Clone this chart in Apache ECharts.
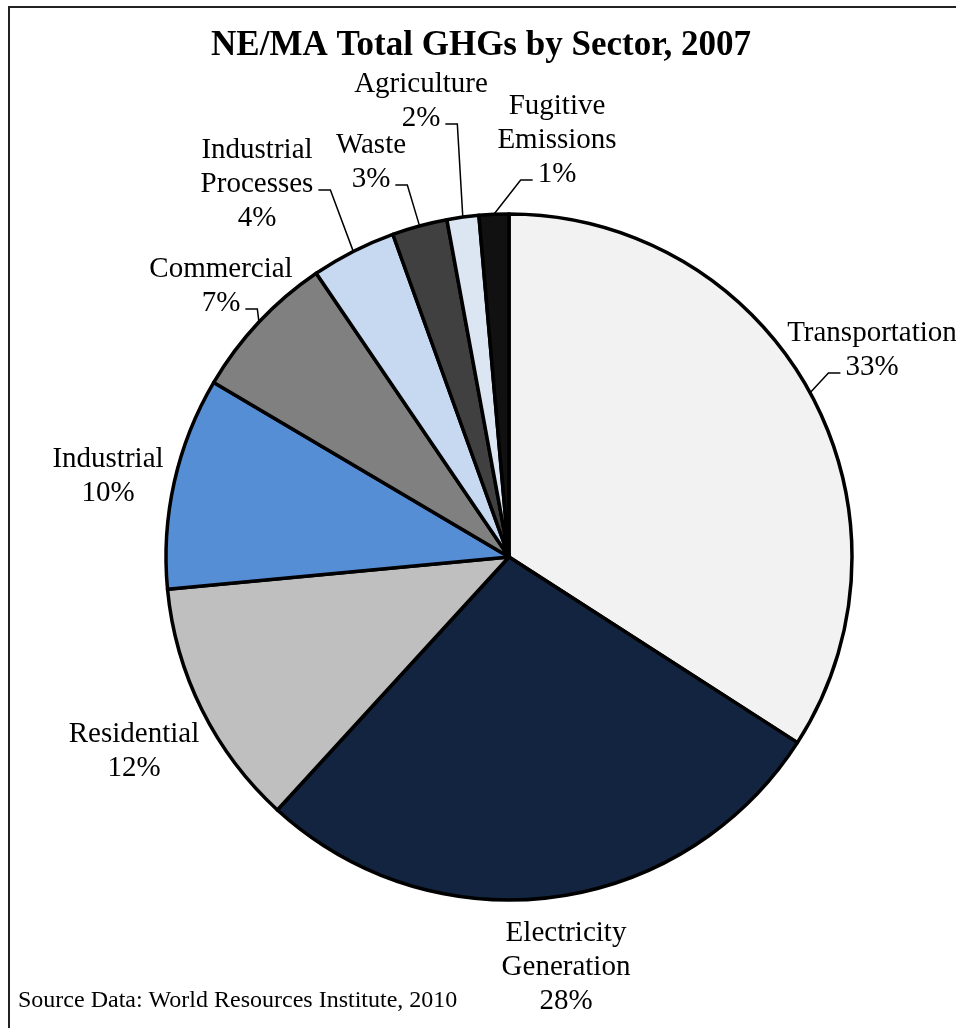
<!DOCTYPE html>
<html><head><meta charset="utf-8">
<script src="https://cdn.jsdelivr.net/npm/echarts@6/dist/echarts.min.js"></script>
<style>html,body{margin:0;padding:0;background:#fff;overflow:hidden}#chart{width:956px;height:1028px}</style>
</head><body><div id="chart"></div>
<script>
// ---- data ----
const categories = ['Transportation', 'Electricity\nGeneration', 'Residential', 'Industrial', 'Commercial',
  'Industrial\nProcesses', 'Waste', 'Agriculture', 'Fugitive\nEmissions'];
const values = [34.1, 27.7, 11.7, 10.0, 7.0, 4.0, 2.6, 1.5, 1.4];
const percentLabels = ['33%', '28%', '12%', '10%', '7%', '4%', '3%', '2%', '1%'];
const titleText = 'NE/MA Total GHGs by Sector, 2007';
const sourceText = 'Source Data: World Resources Institute, 2010';

// ---- styles / layout ----
const colors = ['#F2F2F2', '#12243F', '#BFBFBF', '#558ED5', '#808080', '#C6D9F1', '#404040', '#DCE6F2', '#111111'];
const CX = 509, CY = 557, R = 343;
const FONT_FAMILY = '"Liberation Serif", "Times New Roman", serif';
const FS = 29, LH = 34;
// label centres and leader-line attachment (side of which text line)
const labelCfg = [
  { x: 872, y: 350, side: 'left', line: 1 },
  { x: 566, y: 967 },
  { x: 134, y: 751 },
  { x: 108, y: 476 },
  { x: 221, y: 286, side: 'right', line: 1 },
  { x: 257, y: 184, side: 'right', line: 1 },
  { x: 371, y: 162, side: 'right', line: 1 },
  { x: 421, y: 101, side: 'right', line: 1 },
  { x: 557, y: 140, side: 'left', line: 2 }
];

const mctx = document.createElement('canvas').getContext('2d');
mctx.font = FS + 'px ' + FONT_FAMILY;
const total = values.reduce((a, b) => a + b, 0);
let cum = 0;
const anchors = values.map(v => {
  const mid = cum + v / 2; cum += v;
  const ang = Math.PI / 2 - mid / total * 2 * Math.PI;
  return [CX + R * Math.cos(ang), CY - R * Math.sin(ang)];
});

const chart = echarts.init(document.getElementById('chart'), null, { renderer: 'canvas' });
chart.setOption({
  animation: false,
  backgroundColor: '#fff',
  graphic: [
    { type: 'rect', z: -10, shape: { x: 9, y: 7, width: 1000, height: 1100 },
      style: { fill: 'none', stroke: '#222', lineWidth: 2 } },
    { type: 'text', x: 481, y: 46, style: { text: titleText, font: 'bold 35px ' + FONT_FAMILY,
      fill: '#000', align: 'center', verticalAlign: 'middle' } },
    { type: 'text', x: 18, y: 1001, style: { text: sourceText, font: '24px ' + FONT_FAMILY,
      fill: '#000', align: 'left', verticalAlign: 'middle' } }
  ],
  series: [{
    type: 'pie',
    center: [CX, CY],
    radius: R,
    startAngle: 90,
    clockwise: true,
    avoidLabelOverlap: false,
    silent: true,
    itemStyle: { borderColor: '#000', borderWidth: 3.5 },
    label: {
      show: true, position: 'outside',
      formatter: p => categories[p.dataIndex] + '\n' + percentLabels[p.dataIndex],
      fontFamily: FONT_FAMILY, fontSize: FS, lineHeight: LH, color: '#000'
    },
    labelLine: { show: true, lineStyle: { color: '#000', width: 1.5 } },
    labelLayout: function (params) {
      const i = params.dataIndex;
      const c = labelCfg[i];
      const out = { x: c.x, y: c.y, align: 'center', verticalAlign: 'middle' };
      if (c.side) {
        const lines = (categories[i] + '\n' + percentLabels[i]).split('\n');
        const n = lines.length;
        const ly = c.y + (c.line - (n - 1) / 2) * LH + 6;
        const w = mctx.measureText(lines[c.line]).width;
        const dir = c.side === 'right' ? 1 : -1;
        const ax = c.x + dir * (w / 2 + 5);
        const ex = ax + dir * 12;
        out.labelLinePoints = [anchors[i], [ex, ly], [ax, ly]];
      }
      return out;
    },
    data: categories.map((c, i) => ({
      name: c, value: values[i],
      itemStyle: { color: colors[i] },
      labelLine: { show: !!labelCfg[i].side }
    }))
  }]
});
</script>
</body></html>
